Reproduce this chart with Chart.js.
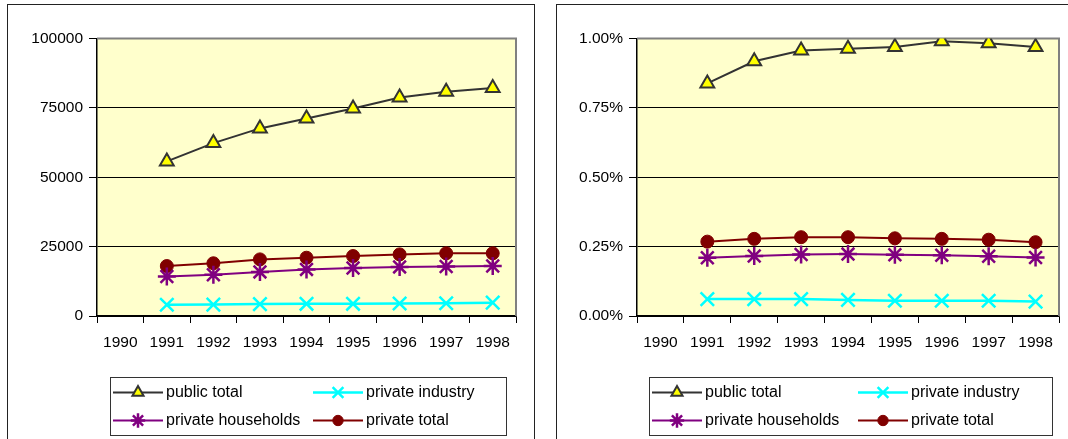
<!DOCTYPE html>
<html>
<head>
<meta charset="utf-8">
<script src="https://cdn.jsdelivr.net/npm/chart.js@4.4.1/dist/chart.umd.min.js"></script>
<style>
body { margin: 0; background: #fff; overflow: hidden; }
.frame { position: absolute; top: 4px; border: 1px solid #222; background: #fff; }
#leftFrame { left: 7px; width: 526px; height: 450px; }
#rightFrame { left: 556px; width: 528px; height: 450px; }
.holder { position: relative; height: 434px; }
</style>
</head>
<body>
<div class="frame" id="leftFrame"><div class="holder"><canvas id="absChart"></canvas></div></div>
<div class="frame" id="rightFrame"><div class="holder"><canvas id="pctChart"></canvas></div></div>
<script>
// data
const years = ['1990', '1991', '1992', '1993', '1994', '1995', '1996', '1997', '1998'];
const seriesNames = ['public total', 'private industry', 'private households', 'private total'];

const absPublic     = [null, 55700, 62300, 67600, 71200, 74800, 78700, 80800, 82200];
const absIndustry   = [null, 4050, 4100, 4300, 4400, 4400, 4500, 4600, 4800];
const absHouseholds = [null, 14200, 14900, 15900, 16800, 17300, 17700, 17800, 18000];
const absPrivate    = [null, 18000, 19000, 20400, 21000, 21600, 22200, 22600, 22600];

// percent values
const pctPublic     = [null, 0.838, 0.918, 0.957, 0.963, 0.969, 0.990, 0.983, 0.969];
const pctIndustry   = [null, 0.061, 0.061, 0.061, 0.058, 0.055, 0.055, 0.055, 0.052];
const pctHouseholds = [null, 0.210, 0.216, 0.222, 0.223, 0.221, 0.219, 0.215, 0.211];
const pctPrivate    = [null, 0.268, 0.278, 0.284, 0.284, 0.280, 0.278, 0.275, 0.266];

const absAxis = { min: 0, max: 100000, step: 25000 };
const pctAxis = { min: 0, max: 1, step: 0.25 };

const FONT = '"Liberation Sans", Arial, sans-serif';

// look of each series (same order as seriesNames)
const looks = [
  { line: '#333333', width: 2, style: 'triangle', radius: 8, fill: '#FFFF00', edge: '#333333', edgeW: 2 },
  { line: '#00FFFF', width: 2.5, style: 'crossRot', radius: 9.5, fill: '#00FFFF', edge: '#00FFFF', edgeW: 2.5 },
  { line: '#800080', width: 2, style: 'star', radius: 9, fill: '#800080', edge: '#800080', edgeW: 2.5 },
  { line: '#800000', width: 2, style: 'circle', radius: 6.5, fill: '#800000', edge: '#800000', edgeW: 1 }
];

const plotBg = {
  id: 'plotBg',
  beforeDraw(chart) {
    const a = chart.chartArea, ctx = chart.ctx;
    ctx.save();
    ctx.fillStyle = '#FFFFCC';
    ctx.fillRect(a.left, a.top, a.right - a.left, a.bottom - a.top);
    ctx.restore();
  },
  beforeDatasetsDraw(chart) {
    const a = chart.chartArea, ctx = chart.ctx;
    ctx.save();
    ctx.strokeStyle = '#808080';
    ctx.lineWidth = 2;
    ctx.beginPath();
    ctx.moveTo(a.left, a.top);
    ctx.lineTo(a.right, a.top);
    ctx.lineTo(a.right, a.bottom);
    ctx.stroke();
    ctx.restore();
  }
};

const boxLegend = {
  id: 'boxLegend',
  afterDraw(chart, args, opts) {
    const ctx = chart.ctx;
    ctx.save();
    ctx.strokeStyle = '#333';
    ctx.lineWidth = 1;
    ctx.strokeRect(opts.x + 0.5, opts.y + 0.5, opts.w, opts.h);
    ctx.font = '16px ' + FONT;
    ctx.textBaseline = 'middle';
    chart.data.datasets.forEach(function(ds, i) {
      const col = i % 2, row = Math.floor(i / 2);
      const x0 = opts.x + 3 + col * opts.colGap;
      const y = opts.y + 15.5 + row * 28;
      ctx.strokeStyle = ds.borderColor;
      ctx.lineWidth = ds.borderWidth;
      ctx.beginPath();
      ctx.moveTo(x0, y);
      ctx.lineTo(x0 + 50, y);
      ctx.stroke();
      ctx.fillStyle = ds.pointBackgroundColor;
      ctx.strokeStyle = ds.pointBorderColor;
      ctx.lineWidth = ds.pointBorderWidth;
      Chart.helpers.drawPoint(ctx, {
        pointStyle: ds.pointStyle, rotation: 0,
        radius: ds.pointRadius * 0.8, borderWidth: ds.pointBorderWidth
      }, x0 + 25, y);
      ctx.fillStyle = '#000';
      ctx.fillText(ds.label, x0 + 53, y);
    });
    ctx.restore();
  }
};

function makeChart(id, values, axis, fmt, legendBox, padRight, yWidth) {
  const datasets = values.map(function(vals, i) {
    const lk = looks[i];
    return {
      label: seriesNames[i],
      data: vals,
      borderColor: lk.line,
      borderWidth: lk.width,
      pointStyle: lk.style,
      pointRadius: lk.radius,
      pointBackgroundColor: lk.fill,
      pointBorderColor: lk.edge,
      pointBorderWidth: lk.edgeW,
      tension: 0
    };
  });
  return new Chart(document.getElementById(id), {
    type: 'line',
    data: { labels: years, datasets: datasets },
    plugins: [plotBg, boxLegend],
    options: {
      responsive: true,
      maintainAspectRatio: false,
      animation: false,
      events: [],
      layout: { padding: { top: 33.5, right: padRight, bottom: 83, left: 0 } },
      plugins: {
        legend: { display: false },
        tooltip: { enabled: false },
        boxLegend: legendBox
      },
      scales: {
        x: {
          offset: true,
          grid: { offset: true, drawOnChartArea: false, color: '#000', tickLength: 7, lineWidth: 1 },
          border: { color: '#000', width: 1.5 },
          ticks: { color: '#000', font: { family: FONT, size: 15.5 }, padding: 10, maxRotation: 0, autoSkip: false },
          afterFit: function(s) { s.height = 40; }
        },
        y: {
          min: axis.min,
          max: axis.max,
          grid: { color: '#000', lineWidth: 1, tickLength: 8 },
          border: { color: '#000', width: 1.5 },
          ticks: { stepSize: axis.step, color: '#000', font: { family: FONT, size: 15.5 }, padding: 6, callback: fmt },
          afterFit: function(s) { s.width = yWidth; }
        }
      }
    }
  });
}

const absChart = makeChart('absChart',
  [absPublic, absIndustry, absHouseholds, absPrivate],
  absAxis,
  function(v) { return String(v); },
  { x: 102, y: 372, w: 396, h: 58, colGap: 200 },
  18, 89);

const pctChart = makeChart('pctChart',
  [pctPublic, pctIndustry, pctHouseholds, pctPrivate],
  pctAxis,
  function(v) { return v.toFixed(2) + '%'; },
  { x: 92, y: 372, w: 403, h: 58, colGap: 206 },
  26, 80);
</script>
</body>
</html>
